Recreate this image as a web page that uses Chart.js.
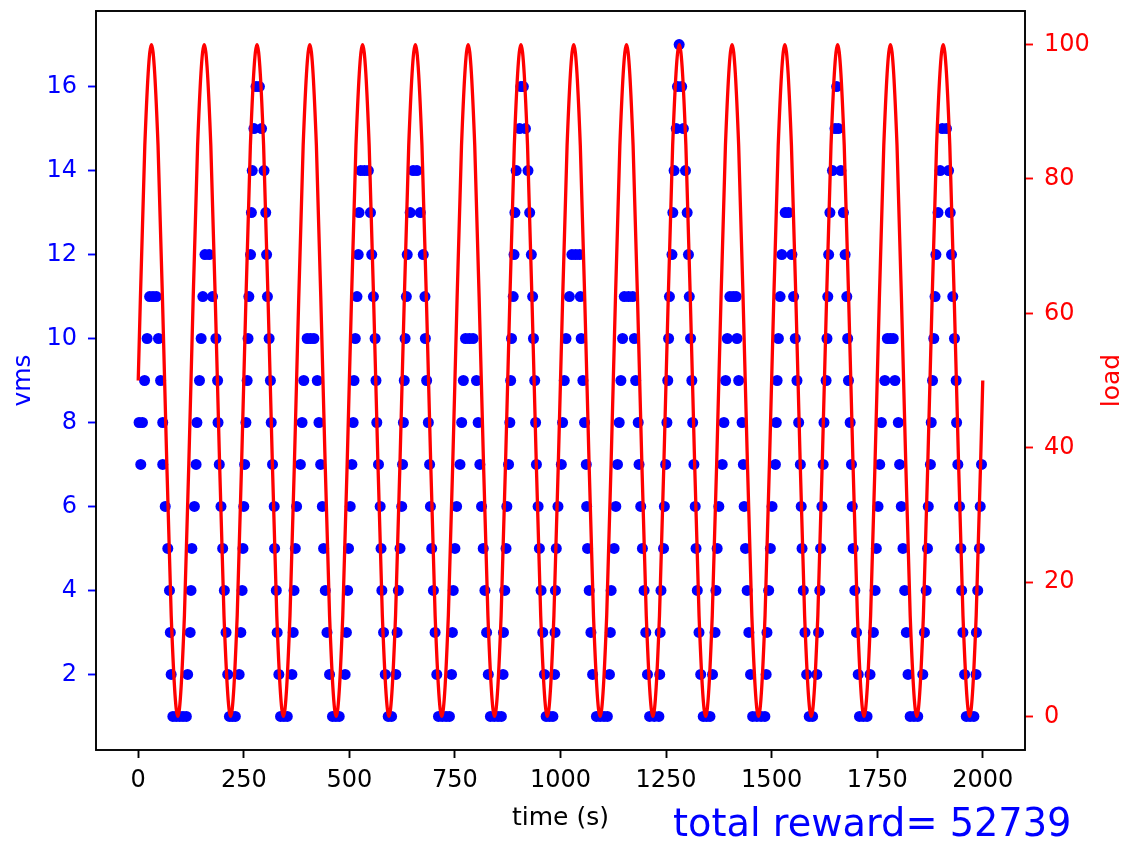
<!DOCTYPE html>
<html>
<head>
<meta charset="utf-8">
<title>vms / load over time</title>
<script src="https://cdn.jsdelivr.net/npm/chart.js@4.4.1/dist/chart.umd.min.js"></script>
<style>
  html, body { margin: 0; padding: 0; background: #ffffff; }
  canvas { display: block; }
</style>
</head>
<body>
<canvas id="vmsChart" width="1132" height="848"></canvas>
<script>
// --- tick labels ---
var timeTicks = [0, 250, 500, 750, 1000, 1250, 1500, 1750, 2000];
var vmsTicks = [2, 4, 6, 8, 10, 12, 14, 16];
var loadTicks = [0, 20, 40, 60, 80, 100];

// --- vms (blue dots), one line per load cycle ---
var vmsTime = [
  2, 6, 10, 15, 21, 27, 35, 43, 48, 53, 58, 58, 64, 70, 74, 76, 78, 82, 90, 98, 106, 114,
  117, 123, 125, 127, 133, 137, 139, 145, 149, 153, 158, 168, 176, 184, 188, 189, 192, 196, 200, 204, 208, 212, 216, 223, 230,
  239, 243, 246, 248, 250, 252, 255, 258, 260, 262, 266, 268, 270, 274, 279, 287, 292, 298, 302, 304, 306, 310, 313, 315, 318, 322, 323, 327, 329, 333, 337, 345, 353,
  364, 367, 369, 372, 375, 384, 388, 392, 400, 408, 416, 424, 428, 432, 436, 439, 443, 447, 453, 460, 468, 476,
  490, 493, 496, 498, 502, 506, 509, 511, 514, 518, 521, 523, 527, 536, 545, 550, 553, 557, 561, 563, 565, 569, 573, 575, 577, 581, 585, 592, 600,
  610, 613, 616, 620, 624, 626, 628, 630, 632, 635, 637, 644, 651, 660, 668, 675, 679, 680, 683, 687, 690, 692, 695, 699, 703, 707, 711, 720, 729, 737,
  742, 744, 746, 750, 754, 762, 766, 770, 775, 784, 793, 801, 805, 809, 813, 817, 821, 825, 829, 834, 843, 852, 860,
  864, 865, 868, 871, 873, 877, 880, 882, 884, 888, 890, 892, 895, 903, 906, 912, 917, 923, 927, 931, 934, 936, 939, 941, 943, 947, 950, 954, 958, 962, 966, 974, 982,
  986, 987, 988, 990, 994, 1002, 1005, 1009, 1013, 1021, 1027, 1036, 1045, 1047, 1049, 1053, 1057, 1061, 1062, 1064, 1068, 1072, 1076, 1085, 1094, 1103, 1111,
  1116, 1118, 1120, 1127, 1131, 1135, 1139, 1143, 1147, 1151, 1161, 1171, 1175, 1178, 1184, 1186, 1190, 1194, 1198, 1202, 1206, 1211, 1222, 1233,
  1235, 1236, 1238, 1244, 1246, 1249, 1252, 1254, 1256, 1258, 1264, 1266, 1269, 1274, 1277, 1281, 1287, 1291, 1296, 1300, 1303, 1305, 1308, 1311, 1313, 1316, 1319, 1321, 1324, 1328, 1332, 1338, 1346, 1354,
  1360, 1366, 1368, 1371, 1375, 1383, 1387, 1391, 1395, 1401, 1409, 1416, 1418, 1422, 1430, 1433, 1435, 1438, 1442, 1446, 1450, 1455, 1465, 1475, 1484,
  1487, 1489, 1493, 1497, 1501, 1509, 1511, 1513, 1516, 1520, 1524, 1532, 1540, 1548, 1552, 1556, 1560, 1564, 1568, 1570, 1572, 1575, 1579, 1583, 1589, 1597,
  1607, 1611, 1614, 1616, 1619, 1622, 1624, 1629, 1631, 1633, 1635, 1638, 1644, 1650, 1654, 1658, 1664, 1670, 1674, 1678, 1680, 1682, 1686, 1689, 1691, 1693, 1697, 1701, 1705, 1708, 1717, 1726,
  1733, 1741, 1745, 1748, 1752, 1756, 1760, 1768, 1774, 1781, 1788, 1792, 1800, 1803, 1807, 1811, 1815, 1819, 1823, 1828, 1837, 1846,
  1858, 1862, 1866, 1869, 1871, 1876, 1878, 1881, 1884, 1887, 1889, 1894, 1899, 1904, 1914, 1919, 1923, 1926, 1929, 1933, 1937, 1938, 1941, 1945, 1948, 1950, 1953, 1957, 1961, 1970, 1979,
  1984, 1985, 1988, 1992, 1994, 1997
];
var vmsCount = [
  8, 7, 8, 9, 10, 11, 11, 11, 10, 9, 8, 7, 6, 5, 4, 3, 2, 1, 1, 1, 1, 1,
  2, 3, 4, 5, 6, 7, 8, 9, 10, 11, 12, 12, 11, 10, 9, 8, 7, 6, 5, 4, 3, 2, 1, 1, 1,
  2, 3, 4, 5, 6, 7, 8, 9, 10, 11, 12, 13, 14, 15, 16, 16, 15, 14, 13, 12, 11, 10, 9, 8, 7, 6, 5, 4, 3, 2, 1, 1, 1,
  2, 3, 4, 5, 6, 7, 8, 9, 10, 10, 10, 9, 8, 7, 6, 5, 4, 3, 2, 1, 1, 1,
  2, 3, 4, 5, 6, 7, 8, 9, 10, 11, 12, 13, 14, 14, 14, 13, 12, 11, 10, 9, 8, 7, 6, 5, 4, 3, 2, 1, 1,
  2, 3, 4, 5, 6, 7, 8, 9, 10, 11, 12, 13, 14, 14, 13, 12, 11, 10, 9, 8, 7, 6, 5, 4, 3, 2, 1, 1, 1, 1,
  2, 3, 4, 5, 6, 7, 8, 9, 10, 10, 10, 9, 8, 7, 6, 5, 4, 3, 2, 1, 1, 1, 1,
  2, 3, 4, 5, 6, 7, 8, 9, 10, 11, 12, 13, 14, 15, 16, 16, 15, 14, 13, 12, 11, 10, 9, 8, 7, 6, 5, 4, 3, 2, 1, 1, 1,
  2, 3, 4, 5, 6, 7, 8, 9, 10, 11, 12, 12, 12, 11, 10, 9, 8, 7, 6, 5, 4, 3, 2, 1, 1, 1, 1,
  2, 3, 4, 5, 6, 7, 8, 9, 10, 11, 11, 11, 10, 9, 8, 7, 6, 5, 4, 3, 2, 1, 1, 1,
  2, 3, 4, 5, 6, 7, 8, 9, 10, 11, 12, 13, 14, 15, 16, 17, 16, 15, 14, 13, 12, 11, 10, 9, 8, 7, 6, 5, 4, 3, 2, 1, 1, 1,
  2, 3, 4, 5, 6, 7, 8, 9, 10, 11, 11, 11, 10, 9, 8, 7, 6, 5, 4, 3, 2, 1, 1, 1, 1,
  2, 3, 4, 5, 6, 7, 8, 9, 10, 11, 12, 13, 13, 12, 11, 10, 9, 8, 7, 6, 5, 4, 3, 2, 1, 1,
  2, 3, 4, 5, 6, 7, 8, 9, 10, 11, 12, 13, 14, 15, 16, 15, 14, 13, 12, 11, 10, 9, 8, 7, 6, 5, 4, 3, 2, 1, 1, 1,
  2, 3, 4, 5, 6, 7, 8, 9, 10, 10, 10, 9, 8, 7, 6, 5, 4, 3, 2, 1, 1, 1,
  2, 3, 4, 5, 6, 7, 8, 9, 10, 11, 12, 13, 14, 15, 15, 14, 13, 12, 11, 10, 9, 8, 7, 6, 5, 4, 3, 2, 1, 1, 1,
  2, 3, 4, 5, 6, 7
];

// --- load (red line), read every 1/8 of a 125 s cycle ---
var loadTime = [
  0, 15.6, 31.3, 46.9, 62.5, 78.1, 93.8, 109.4,
  125, 140.6, 156.3, 171.9, 187.5, 203.1, 218.8, 234.4,
  250, 265.6, 281.3, 296.9, 312.5, 328.1, 343.8, 359.4,
  375, 390.6, 406.3, 421.9, 437.5, 453.1, 468.8, 484.4,
  500, 515.6, 531.3, 546.9, 562.5, 578.1, 593.8, 609.4,
  625, 640.6, 656.3, 671.9, 687.5, 703.1, 718.8, 734.4,
  750, 765.6, 781.3, 796.9, 812.5, 828.1, 843.8, 859.4,
  875, 890.6, 906.3, 921.9, 937.5, 953.1, 968.8, 984.4,
  1000, 1015.6, 1031.3, 1046.9, 1062.5, 1078.1, 1093.8, 1109.4,
  1125, 1140.6, 1156.3, 1171.9, 1187.5, 1203.1, 1218.8, 1234.4,
  1250, 1265.6, 1281.3, 1296.9, 1312.5, 1328.1, 1343.8, 1359.4,
  1375, 1390.6, 1406.3, 1421.9, 1437.5, 1453.1, 1468.8, 1484.4,
  1500, 1515.6, 1531.3, 1546.9, 1562.5, 1578.1, 1593.8, 1609.4,
  1625, 1640.6, 1656.3, 1671.9, 1687.5, 1703.1, 1718.8, 1734.4,
  1750, 1765.6, 1781.3, 1796.9, 1812.5, 1828.1, 1843.8, 1859.4,
  1875, 1890.6, 1906.3, 1921.9, 1937.5, 1953.1, 1968.8, 1984.4,
  2000
];
var loadValue = [
  50, 85, 100, 85, 50, 15, 0, 15,
  50, 85, 100, 85, 50, 15, 0, 15,
  50, 85, 100, 85, 50, 15, 0, 15,
  50, 85, 100, 85, 50, 15, 0, 15,
  50, 85, 100, 85, 50, 15, 0, 15,
  50, 85, 100, 85, 50, 15, 0, 15,
  50, 85, 100, 85, 50, 15, 0, 15,
  50, 85, 100, 85, 50, 15, 0, 15,
  50, 85, 100, 85, 50, 15, 0, 15,
  50, 85, 100, 85, 50, 15, 0, 15,
  50, 85, 100, 85, 50, 15, 0, 15,
  50, 85, 100, 85, 50, 15, 0, 15,
  50, 85, 100, 85, 50, 15, 0, 15,
  50, 85, 100, 85, 50, 15, 0, 15,
  50, 85, 100, 85, 50, 15, 0, 15,
  50, 85, 100, 85, 50, 15, 0, 15,
  50
];

var totalReward = 52739;

var BLUE = '#0000ff';
var RED = '#ff0000';
var FONT = '"DejaVu Sans", "Liberation Sans", sans-serif';

Chart.defaults.font.family = FONT;

var vmsPoints = vmsTime.map(function (t, i) { return { x: t, y: vmsCount[i] }; });
var loadPoints = loadTime.map(function (t, i) { return { x: t, y: loadValue[i] }; });

// force the tick positions to the listed values
function useTicks(values) {
  return function (scale) {
    scale.ticks = values.map(function (v) { return { value: v }; });
  };
}

// fixed axis box sizes, no extra label overhang padding
function fixWidth(w) {
  return function (s) {
    s.width = w;
    s.paddingTop = 0;
    s.paddingBottom = 0;
  };
}
function fixHeight(h) {
  return function (s) {
    s.height = h;
    s.paddingLeft = 0;
    s.paddingRight = 0;
  };
}

function plainLabel(v) { return String(v); }

// frame, right-hand "load" label (rotated like matplotlib) and the reward note
var extrasPlugin = {
  id: 'extras',
  beforeDraw: function (chart) {
    var ctx = chart.ctx;
    ctx.save();
    ctx.fillStyle = '#ffffff';
    ctx.fillRect(0, 0, chart.width, chart.height);
    ctx.restore();
  },
  afterDraw: function (chart) {
    var a = chart.chartArea;
    var ctx = chart.ctx;
    ctx.save();
    ctx.strokeStyle = '#000000';
    ctx.lineWidth = 1.9;
    ctx.strokeRect(a.left, a.top, a.right - a.left, a.bottom - a.top);

    ctx.fillStyle = RED;
    ctx.font = '25px ' + FONT;
    ctx.textAlign = 'center';
    ctx.textBaseline = 'middle';
    ctx.translate(1112, (a.top + a.bottom) / 2);
    ctx.rotate(-Math.PI / 2);
    ctx.fillText('load', 0, 0);
    ctx.restore();

    ctx.save();
    ctx.fillStyle = BLUE;
    ctx.font = '38.3px ' + FONT;
    ctx.textAlign = 'left';
    ctx.textBaseline = 'alphabetic';
    ctx.fillText('total reward= ' + totalReward, 673, 836);
    ctx.restore();
  }
};

new Chart(document.getElementById('vmsChart'), {
  type: 'scatter',
  data: {
    datasets: [{
      type: 'line',
      label: 'load',
      data: loadPoints,
      yAxisID: 'yLoad',
      borderColor: RED,
      borderWidth: 3.3,
      pointRadius: 0,
      cubicInterpolationMode: 'monotone',
      fill: false,
      order: 0
    }, {
      label: 'vms',
      data: vmsPoints,
      yAxisID: 'y',
      backgroundColor: BLUE,
      borderWidth: 0,
      pointRadius: 5.5,
      pointHoverRadius: 5.5,
      order: 1
    }]
  },
  options: {
    responsive: false,
    animation: false,
    devicePixelRatio: 1,
    layout: { padding: { top: 11, left: 0, right: 0, bottom: 0 } },
    plugins: {
      legend: { display: false },
      tooltip: { enabled: false }
    },
    scales: {
      x: {
        type: 'linear',
        position: 'bottom',
        min: -100,
        max: 2100,
        afterBuildTicks: useTicks(timeTicks),
        afterFit: fixHeight(98),
        border: { display: false },
        grid: { display: true, drawOnChartArea: false, drawTicks: true, tickLength: 8, tickWidth: 1.9, tickColor: '#000000' },
        ticks: { color: '#000000', font: { size: 24 }, padding: 8, maxRotation: 0, autoSkip: false, callback: plainLabel },
        title: { display: true, text: 'time (s)', color: '#000000', font: { size: 25 }, padding: { top: 0, bottom: 15 } }
      },
      y: {
        type: 'linear',
        position: 'left',
        min: 0.2,
        max: 17.8,
        afterBuildTicks: useTicks(vmsTicks),
        afterFit: fixWidth(96),
        border: { display: false },
        grid: { display: true, drawOnChartArea: false, drawTicks: true, tickLength: 8, tickWidth: 1.9, tickColor: BLUE },
        ticks: { color: BLUE, font: { size: 24 }, padding: 11, autoSkip: false, callback: plainLabel },
        title: { display: true, text: 'vms', color: BLUE, font: { size: 25 }, padding: { top: 8, bottom: 0 } }
      },
      yLoad: {
        type: 'linear',
        position: 'right',
        min: -5,
        max: 105,
        afterBuildTicks: useTicks(loadTicks),
        afterFit: fixWidth(107),
        border: { display: false },
        grid: { display: true, drawOnChartArea: false, drawTicks: true, tickLength: 8, tickWidth: 1.9, tickColor: RED },
        ticks: { color: RED, font: { size: 24 }, padding: 11, autoSkip: false, callback: plainLabel }
      }
    }
  },
  plugins: [extrasPlugin]
});
</script>
</body>
</html>
